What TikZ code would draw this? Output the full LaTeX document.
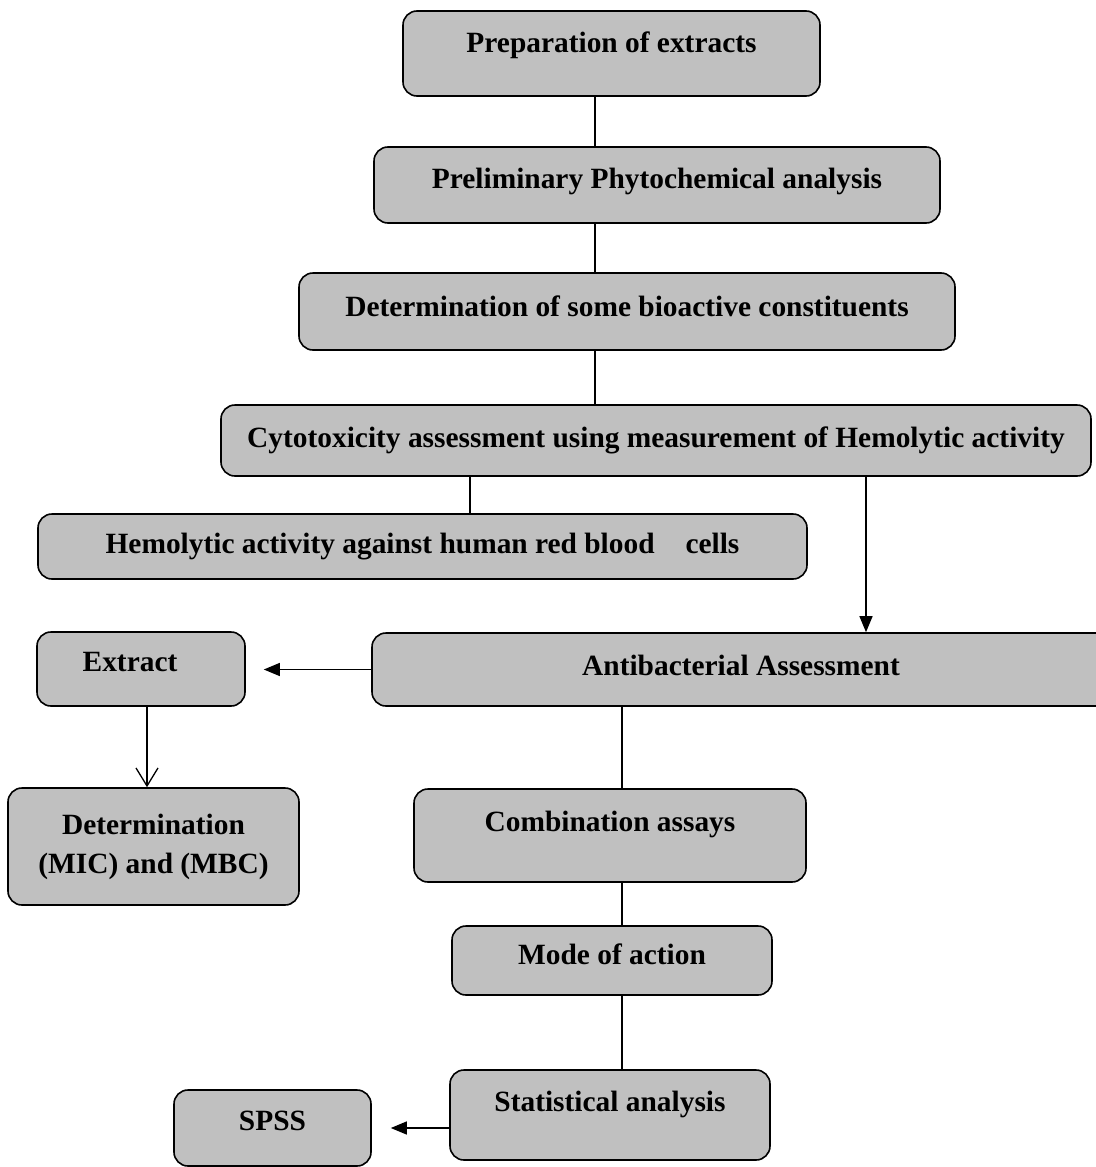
\documentclass[tikz,border=0pt]{standalone}
\usepackage{fontspec}
\setmainfont{Liberation Serif}
\usetikzlibrary{arrows.meta}
\definecolor{boxgray}{RGB}{192,192,192}

\begin{document}
\begin{tikzpicture}[x=1pt,y=-1pt,every node/.style={font=\fontsize{29.4}{39}\selectfont\bfseries},
    box/.style={draw,line width=1.6pt,fill=boxgray,rounded corners=14pt,inner sep=0pt,align=center},
    lift/.style={text height=20pt,text depth=#1},
    link/.style={line width=1.3pt},
    tip/.style={link,-{Triangle[length=16pt,width=13pt]}}]
    \useasboundingbox (0,0) rectangle (1095,1167);
    % steps
    \node[box,lift=23pt,minimum width=417pt,minimum height=85pt] (prep) at (611.5,53.5) {Preparation of extracts};
    \node[box,lift=14pt,minimum width=566pt,minimum height=76pt] (prelim) at (657,185) {Preliminary Phytochemical analysis};
    \node[box,lift=11pt,minimum width=656pt,minimum height=77pt] (bioact) at (627,311.5) {Determination of some bioactive constituents};
    \node[box,lift=6pt,minimum width=870pt,minimum height=71pt] (cyto) at (656,440.5) {Cytotoxicity assessment using measurement of Hemolytic activity};
    \node[box,lift=6pt,minimum width=769pt,minimum height=65pt] (hemo) at (422.5,546.5) {Hemolytic activity against human red blood\hspace{0.8em} cells};
    \node[box,lift=9pt,minimum width=738pt,minimum height=73pt] (anti) at (741,669.5) {Antibacterial Assessment};
    \node[box,lift=16pt,minimum width=208pt,minimum height=74pt] (extract) at (141,669) {Extract\hspace{22pt}};
    \node[box,minimum width=291pt,minimum height=117pt] (mic) at (153.5,846.5) {Determination\\(MIC) and (MBC)};
    \node[box,lift=29pt,minimum width=392pt,minimum height=93pt] (comb) at (610,835.5) {Combination assays};
    \node[box,lift=13pt,minimum width=320pt,minimum height=69pt] (mode) at (612,960.5) {Mode of action};
    \node[box,lift=28pt,minimum width=320pt,minimum height=90pt] (stat) at (610,1115) {Statistical analysis};
    \node[box,lift=16pt,minimum width=197pt,minimum height=76pt] (spss) at (272.5,1128) {SPSS};
    % vertical guides
    \coordinate (spine) at (595,0);
    \coordinate (col) at (622,0);
    \coordinate (left) at (470,0);
    \coordinate (right) at (866,0);
    \coordinate (ext) at (147,0);
    % connectors
    \draw[link] (prep.south -| spine) -- (prelim.north -| spine);
    \draw[link] (prelim.south -| spine) -- (bioact.north -| spine);
    \draw[link] (bioact.south -| spine) -- (cyto.north -| spine);
    \draw[link] (cyto.south -| left) -- (hemo.north -| left);
    \draw[tip] (cyto.south -| right) -- (anti.north -| right);
    \draw[tip,shorten >=18pt] (anti.west) -- (extract.east |- anti.west);
    \draw[link,-{Straight Barb[length=18pt,width=22pt]}] (extract.south -| ext) -- (mic.north -| ext);
    \draw[link] (anti.south -| col) -- (comb.north -| col);
    \draw[link] (comb.south -| col) -- (mode.north -| col);
    \draw[link] (mode.south -| col) -- (stat.north -| col);
    \draw[tip,shorten >=19pt] (stat.west |- spss.center) -- (spss.east);
\end{tikzpicture}
\end{document}
